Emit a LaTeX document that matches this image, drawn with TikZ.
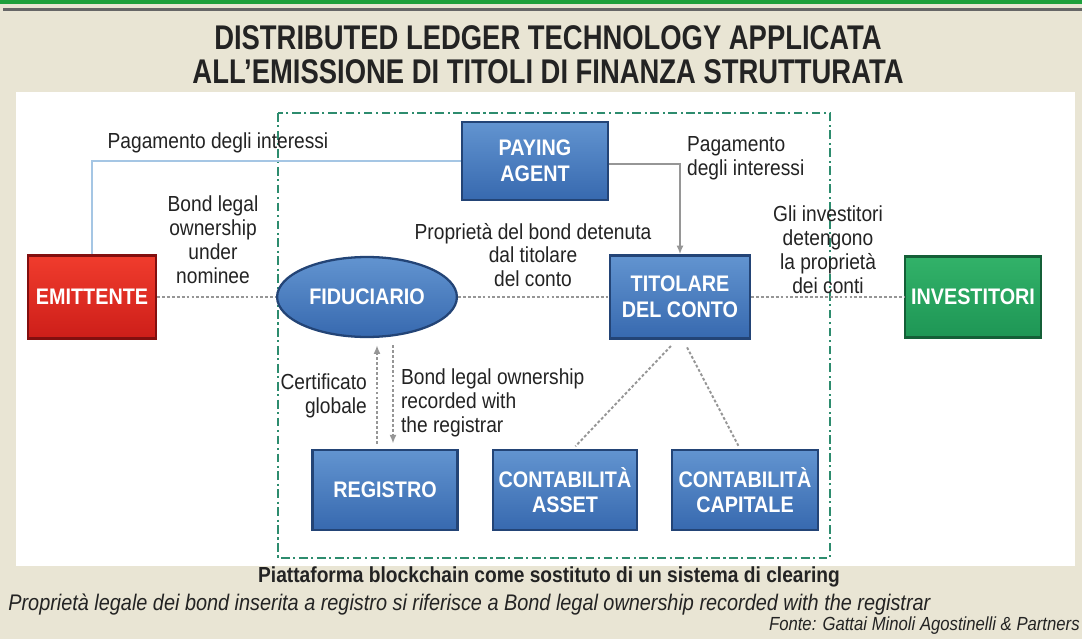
\documentclass[tikz,border=0pt]{standalone}
\usepackage{fontspec}
\setmainfont{Liberation Sans}[FakeStretch=0.88]
\newfontfamily\titlefont{Liberation Sans}[FakeStretch=0.8]
\usepackage{tikz}
\usetikzlibrary{arrows.meta,shapes,positioning,calc}
\usepackage{xcolor}

\definecolor{bgbeige}{RGB}{233,229,212}
\definecolor{textdark}{RGB}{35,35,35}
\definecolor{topgreen}{RGB}{30,160,60}
\definecolor{blueTop}{RGB}{98,148,208}
\definecolor{blueBot}{RGB}{55,105,175}
\definecolor{blueEdge}{RGB}{35,68,118}
\definecolor{redTop}{RGB}{240,60,45}
\definecolor{redBot}{RGB}{205,30,25}
\definecolor{redEdge}{RGB}{130,15,15}
\definecolor{greenTop}{RGB}{50,178,105}
\definecolor{greenBot}{RGB}{30,150,85}
\definecolor{greenEdge}{RGB}{20,95,55}
\definecolor{frameteal}{RGB}{45,140,110}
\definecolor{paylight}{RGB}{165,198,228}
\definecolor{linkgray}{RGB}{150,150,150}

\newcommand{\lblfont}{\fontsize{12.4}{13.6}\selectfont}
\newcommand{\boxfont}{\fontsize{12.8}{14.6}\selectfont\bfseries}

\begin{document}
\begin{tikzpicture}[x=0.02cm, y=-0.02cm,
    boxnode/.style={rectangle, line width=1.3pt, text=white, font=\boxfont,
        align=center, minimum height=1.62cm},
    bluebox/.style={boxnode, top color=blueTop, bottom color=blueBot, draw=blueEdge},
    lbl/.style={text=textdark, font=\lblfont, align=center, inner sep=1pt},
    dotlink/.style={draw=linkgray, line width=1.1pt, dash pattern=on 1.6pt off 1.2pt},
    platform/.style={draw=frameteal, line width=1.1pt, dash pattern=on 5pt off 2pt on 1.2pt off 2pt}]

    \useasboundingbox (0,0) rectangle (1082,639);
    \fill[bgbeige] (0,0) rectangle (1082,639);
    \fill[topgreen] (0,0) rectangle (1082,4);
    \fill[black!60] (3,8) rectangle (1082,11);
    \fill[white] (16,92) rectangle (1075,566);

    % Title
    \node[text=textdark, font=\titlefont\fontsize{19.5}{19.5}\selectfont\bfseries, align=center]
        (title) at (548,55) {DISTRIBUTED LEDGER TECHNOLOGY APPLICATA\\ALL’EMISSIONE DI TITOLI DI FINANZA STRUTTURATA};

    % Blockchain platform
    \draw[platform] (278,113) rectangle (830,558);

    % Nodes
    \node[bluebox, minimum width=2.92cm, minimum height=1.56cm] (paying) at (535,161) {PAYING\\AGENT};
    \node[boxnode, top color=redTop, bottom color=redBot, draw=redEdge, minimum width=2.56cm, minimum height=1.66cm]
        (emitt) at (92,297) {EMITTENTE};
    \node[ellipse, line width=1.3pt, top color=blueTop, bottom color=blueBot, draw=blueEdge, text=white,
        font=\boxfont, minimum width=3.3cm, minimum height=1.6cm] (fid) at (367,297) {FIDUCIARIO};
    \node[bluebox, minimum width=2.8cm, minimum height=1.66cm] (titolare) at (680,297) {TITOLARE\\DEL CONTO};
    \node[boxnode, top color=greenTop, bottom color=greenBot, draw=greenEdge, minimum width=2.68cm]
        (invest) at (973,297) {INVESTITORI};
    \node[bluebox, minimum width=2.9cm, minimum height=1.6cm] (registro) at (385,490) {REGISTRO};
    \node[bluebox, minimum width=2.7cm, minimum height=1.6cm] (asset) at (565,490) {CONTABILIT\`A\\ASSET};
    \node[bluebox, minimum width=2.92cm, minimum height=1.6cm] (capitale) at (745,490) {CONTABILIT\`A\\CAPITALE};

    % Interest payments
    \draw[paylight, line width=1.4pt] (emitt.north) |- (paying.west);
    \draw[linkgray, line width=1.1pt, -{Latex[length=5pt,width=4pt]}] ([yshift=-0.06cm]paying.east) -| (titolare.north);
    \node[lbl] (paylbl) at (218,143) {Pagamento degli interessi};
    \node[lbl, anchor=west, align=left] (paylbr) at (685,158) {Pagamento\\degli interessi};

    % Ownership links
    \draw[dotlink] (emitt) -- (fid);
    \draw[dotlink] (fid) -- (titolare);
    \draw[dotlink] (titolare) -- (invest);
    \node[lbl] (nominee) at (213,240) {Bond legal\\ownership\\under\\nominee};
    \node[lbl] (detenuta) at (533,255) {Propriet\`a del bond detenuta\\dal titolare\\del conto};
    \node[lbl] (detengono) at (828,250) {Gli investitori\\detengono\\la propriet\`a\\dei conti};

    % Registrar
    \draw[dotlink, -{Latex[length=5pt,width=4pt]}, shorten <=3pt, shorten >=4pt]
        ([xshift=-0.16cm]registro.north) -- ([xshift=-0.16cm]registro.north |- fid.south);
    \draw[dotlink, -{Latex[length=5pt,width=4pt]}, shorten <=4pt, shorten >=3pt]
        ([xshift=0.16cm]registro.north |- fid.south) -- ([xshift=0.16cm]registro.north);
    \node[lbl, anchor=east, align=right] (certif) at (369,396) {Certificato\\globale};
    \node[lbl, anchor=west, align=left] (recorded) at (399,403) {Bond legal ownership\\recorded with\\the registrar};

    % Accounting
    \draw[dotlink, shorten <=5pt, shorten >=2pt] ([xshift=-0.06cm]titolare.south) -- ([xshift=0.16cm]asset.north);
    \draw[dotlink, shorten <=5pt, shorten >=2pt] ([xshift=0.06cm]titolare.south) -- ([xshift=-0.1cm]capitale.north);

    % Captions
    \node[text=textdark, font=\fontsize{12.4}{14}\selectfont\bfseries] (caption) at (549,577)
        {Piattaforma blockchain come sostituto di un sistema di clearing};
    \node[text=textdark, font=\fontsize{12.85}{14}\selectfont\itshape, anchor=west, inner sep=0pt] (note) at (8,605)
        {Propriet\`a legale dei bond inserita a registro si riferisce a Bond legal ownership recorded with the registrar};
    \node[text=textdark, font=\fontsize{10.8}{12}\selectfont\itshape, anchor=east, inner sep=0pt] (fonte) at (1080,626)
        {Fonte: Gattai Minoli Agostinelli \& Partners};
\end{tikzpicture}
\end{document}
